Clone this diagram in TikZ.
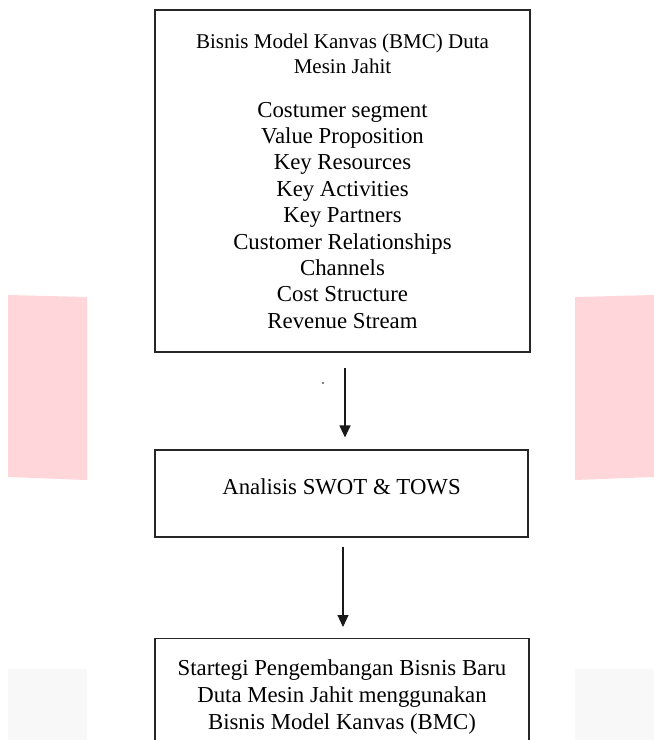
\documentclass[tikz,border=0pt]{standalone}
\usepackage{fontspec}
\setmainfont{Liberation Serif}
\usetikzlibrary{arrows.meta}

\definecolor{pinkmark}{RGB}{255,215,219}
\definecolor{graymark}{RGB}{248,248,248}

\tikzset{
  kotak/.style={draw=black!85, line width=1.1pt, align=center,
    font=\fontsize{22.8}{26.4}\selectfont},
  panah/.style={draw=black!90, line width=1.1pt, -{Triangle[width=11pt,length=12pt]}}
}

\begin{document}
\begin{tikzpicture}[x=1pt,y=-1pt]
% ukuran gambar : 654 x 740 (piksel)
\clip (0,0) rectangle (654,740);

% tanda air di belakang
\fill[pinkmark] (8,295) -- (87,297) -- (87,480) -- (8,477) -- cycle;
\fill[pinkmark] (575,297) -- (654,295) -- (654,477) -- (575,480) -- cycle;
\fill[graymark] (8,669) rectangle (87,740);
\fill[graymark] (575,669) rectangle (654,740);

% kotak BMC
\node[kotak, minimum width=375, minimum height=342] (bmc) at (342.5,181)
  {{\fontsize{21}{25}\selectfont Bisnis Model Kanvas (BMC) Duta}\\[-1.4pt]
   {\fontsize{21}{25}\selectfont Mesin Jahit}\\[17.6pt]
   Costumer segment\\ Value Proposition\\ Key Resources\\ Key Activities\\
   Key Partners\\ Customer Relationships\\ Channels\\ Cost Structure\\
   Revenue Stream};
\fill (323,383) circle (0.8);

% kotak SWOT
\node[kotak, minimum width=373, minimum height=87, text depth=14pt] (swot) at (341.5,493.5)
  {Analisis SWOT \& TOWS};

% kotak strategi (terpotong di bawah)
\node[kotak, minimum width=374, anchor=north, inner ysep=21pt,
  font=\fontsize{22.8}{27.3}\selectfont] (strategi) at (342,638)
  {Startegi Pengembangan Bisnis Baru\\ Duta Mesin Jahit menggunakan\\ Bisnis Model Kanvas (BMC)};

% panah
\draw[panah, shorten <=15pt, shorten >=12pt] ([xshift=2.5pt]bmc.south) -- ([xshift=3.5pt]swot.north);
\draw[panah, shorten <=9pt, shorten >=11pt] ([xshift=1.5pt]swot.south) -- ([xshift=1pt]strategi.north);
\end{tikzpicture}
\end{document}
